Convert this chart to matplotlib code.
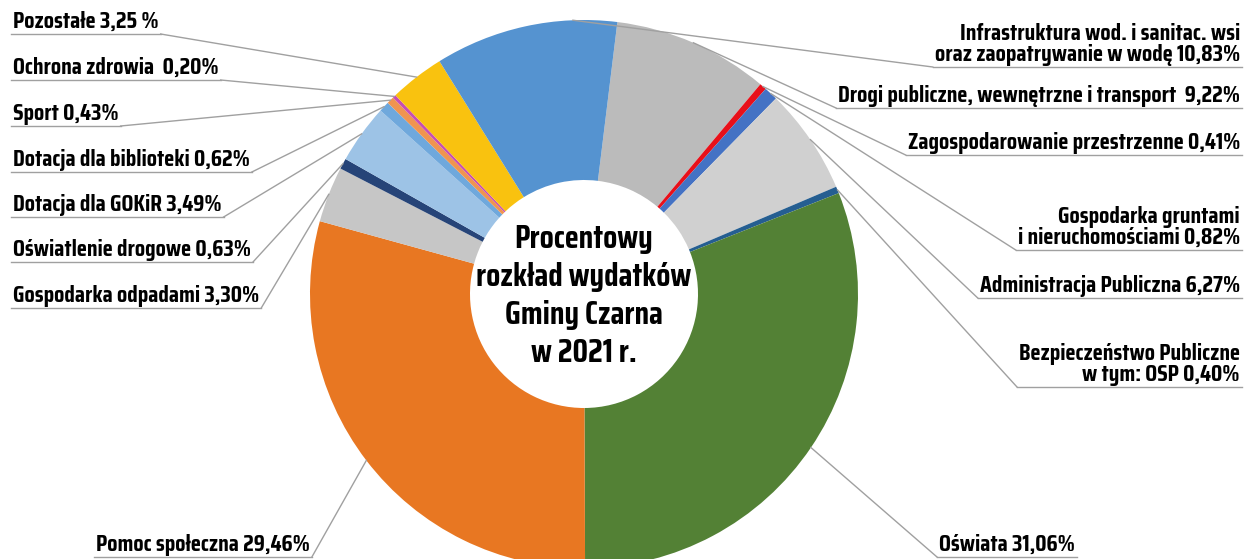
import warnings
import numpy as np
import matplotlib.pyplot as plt
from matplotlib import font_manager as fm

# wydatki gminy, kolejnosc zgodnie z ruchem wskazowek zegara od gory
names = [
    "Drogi publiczne, wewnętrzne i transport  9,22%",
    "Zagospodarowanie przestrzenne 0,41%",
    "Gospodarka gruntami\ni nieruchomościami 0,82%",
    "Administracja Publiczna 6,27%",
    "Bezpieczeństwo Publiczne\nw tym: OSP 0,40%",
    "Oświata 31,06%",
    "Pomoc społeczna 29,46%",
    "Gospodarka odpadami 3,30%",
    "Oświatlenie drogowe 0,63%",
    "Dotacja dla GOKiR 3,49%",
    "Dotacja dla biblioteki 0,62%",
    "Sport 0,43%",
    "Ochrona zdrowia  0,20%",
    "Pozostałe 3,25 %",
    "Infrastruktura wod. i sanitac. wsi\noraz zaopatrywanie w wodę 10,83%",
]
values = [9.22, 0.41, 0.82, 6.27, 0.40, 31.06, 29.46, 3.30, 0.63, 3.49, 0.62, 0.43, 0.20, 3.25, 10.83]
colors = ['#BBBBBB', '#E8101A', '#4472C4', '#D0D0D0', '#255E91', '#538135', '#E87722',
          '#C6C6C6', '#264478', '#9DC3E6', '#6FA8DC', '#F0944F', '#C64FB3', '#F9C20F', '#5593D0']
title = "Procentowy\nrozkład wydatków\nGminy Czarna\nw 2021 r."

# uklad etykiet (piksele obrazka, y od gory)
lab_x = [1240, 1240, 1240, 1240, 1240, 939, 96, 13, 13, 13, 13, 13, 13, 13, 1240]
lab_ha = ['right', 'right', 'right', 'right', 'right', 'left', 'left', 'left', 'left',
          'left', 'left', 'left', 'left', 'left', 'right']
lab_uy = [108, 155, 250, 298, 387, 557, 557, 308, 262, 217, 172, 126, 80, 34, 67]
anchor = {14: 0.24}

W, H = 1251, 559
fig = plt.figure(figsize=(W / 100, H / 100), dpi=100)
rend = fig.canvas.get_renderer()
SAMPLE = "Gospodarka odpadami 3,30%"


def measure(p, s):
    with warnings.catch_warnings():
        warnings.simplefilter('ignore')
        return rend.get_text_width_height_descent(s, p, False)


# pogrubiony krój z polskimi znakami, proporcje jak w oryginale (245 px szer. / 17 px wys. wersalika)
def narrow_font(target=14.4):
    need = "GgOoałęśńóżŚ%,0123456789"
    best, best_d = None, None
    for f in fm.fontManager.ttflist:
        w = f.weight if isinstance(f.weight, int) else {'bold': 700, 'normal': 400}.get(f.weight, 400)
        if w < 600 or f.style != 'normal' or 'Mono' in f.name:
            continue
        try:
            ft = fm.get_font(f.fname)
            if not all(ft.get_char_index(ord(c)) for c in need):
                continue
            p = fm.FontProperties(fname=f.fname, size=16)
            tw, _, _ = measure(p, SAMPLE)
            _, ch, _ = measure(p, "H")
        except Exception:
            continue
        if ch <= 0:
            continue
        d = abs(tw / ch - target)
        if best_d is None or d < best_d:
            best, best_d = f, d
    if best is None:
        return fm.FontProperties(family='DejaVu Sans', weight='bold')
    return fm.FontProperties(fname=best.fname)


fp = narrow_font()
fp.set_size(16)
tw16 = measure(fp, SAMPLE)[0]
lab_size = 16 * 245 / tw16
tp = fp.copy()
tt16 = measure(tp, "rozkład wydatków")[0]
title_size = 16 * 215 / tt16

ax = fig.add_axes([0, 0, 1, 1])
cx, cy, R, r_in = 584, H - 294, 274, 114
wedges, _ = ax.pie(values, colors=colors, startangle=83, counterclock=False,
                   radius=R, center=(cx, cy),
                   wedgeprops=dict(width=R - r_in, linewidth=0))
ax.set_xlim(0, W)
ax.set_ylim(0, H)
ax.set_aspect('equal')
ax.axis('off')

tp.set_size(title_size)
ax.text(cx, cy - 2, title, ha='center', va='center', fontproperties=tp, linespacing=1.32)

lp = fp.copy()
lp.set_size(lab_size)
fig.canvas.draw()
inv = ax.transData.inverted()
for i, w in enumerate(wedges):
    f = anchor.get(i, 0.5)
    ang = np.deg2rad(w.theta1 + f * (w.theta2 - w.theta1))
    px, py = cx + R * np.cos(ang), cy + R * np.sin(ang)
    uy = H - lab_uy[i]
    t = ax.text(lab_x[i], uy + 1, names[i], ha=lab_ha[i], va='bottom',
                fontproperties=lp, linespacing=0.95)
    bb = t.get_window_extent(rend)
    (x0, _), (x1, _) = inv.transform([(bb.x0, 0), (bb.x1, 0)])
    x0 -= 2
    x1 += 2
    ax.plot([x0, x1], [uy, uy], color='#A0A0A0', lw=1)
    ex = x0 if lab_x[i] > cx else x1
    ax.plot([ex, px], [uy, py], color='#A0A0A0', lw=1)

fig.savefig('out.png', dpi=100)
